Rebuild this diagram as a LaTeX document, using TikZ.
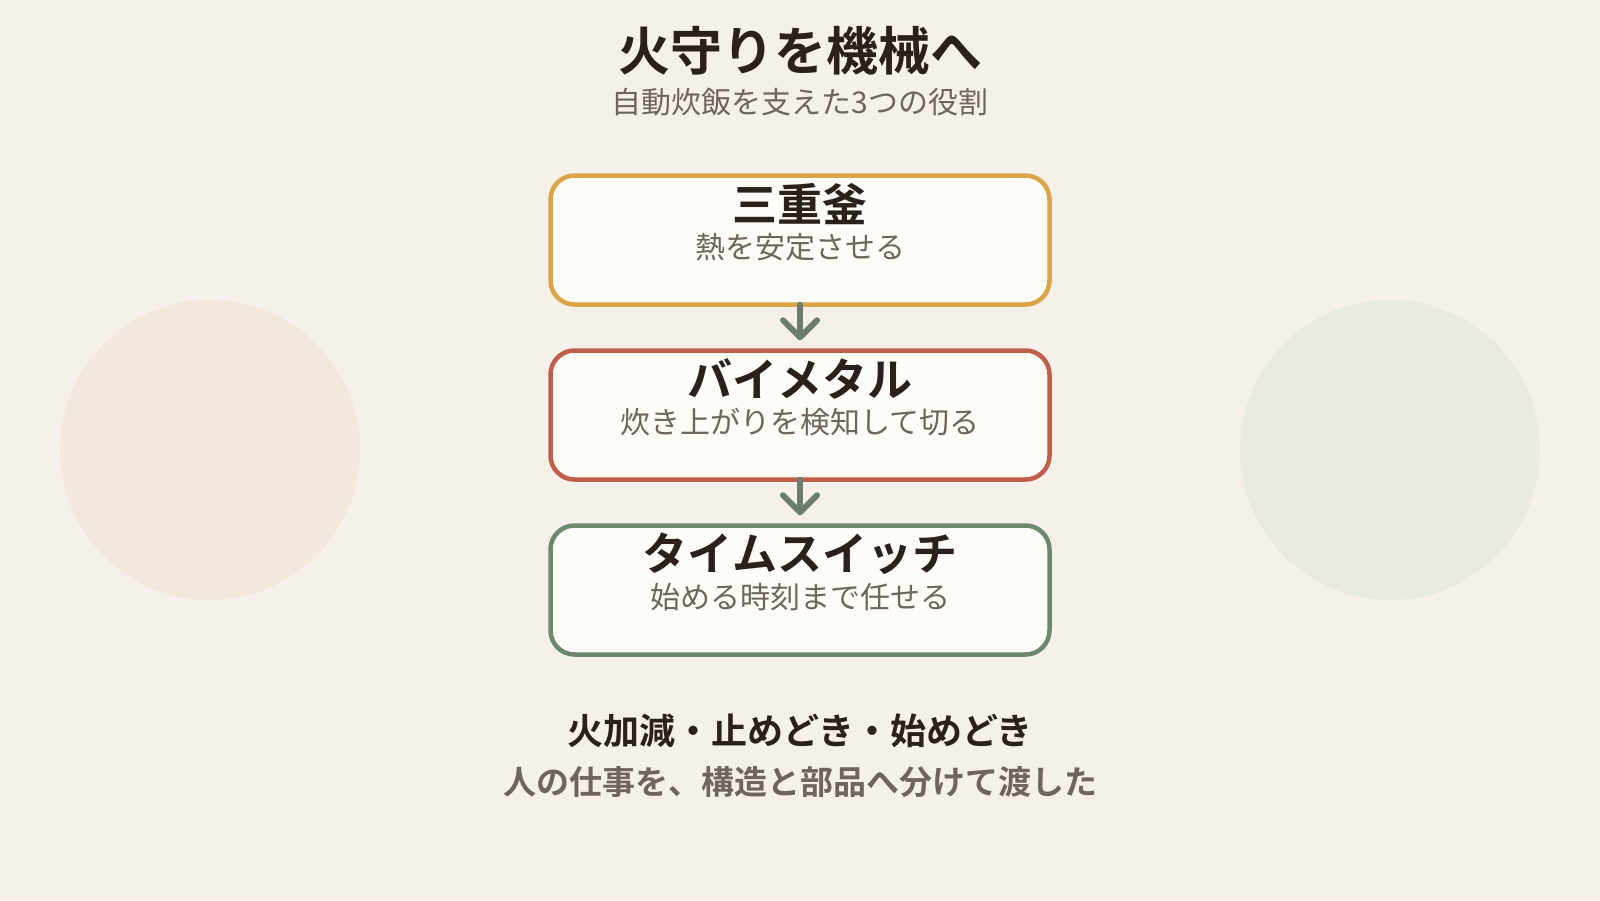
\documentclass[tikz,border=0pt]{standalone}
\usepackage{fontspec}
\setmainfont{Noto Sans CJK JP}
\newfontfamily\jpbold{Noto Sans CJK JP Bold}
\usetikzlibrary{arrows.meta}
\definecolor{bgc}{HTML}{F5F1EA}
\definecolor{boxfill}{HTML}{FEFCF7}
\definecolor{ora}{HTML}{DCA448}
\definecolor{redc}{HTML}{C0604B}
\definecolor{grn}{HTML}{6E876F}
\definecolor{dark}{HTML}{2A201C}
\definecolor{subg}{HTML}{6E655D}
\definecolor{circl}{HTML}{F2E8DC}
\definecolor{circr}{HTML}{E9EBE3}
\definecolor{arr}{HTML}{6B7D6C}
\tikzset{
  x=1pt,y=-1pt,
  stepbox/.style={draw, line width=4.5pt, fill=boxfill, rounded corners=24pt, minimum width=499pt, minimum height=129pt, inner sep=0pt},
  boxtitle/.style={font=\jpbold\fontsize{45}{48}\selectfont, text=dark, inner sep=0pt},
  boxsub/.style={font=\fontsize{30}{34}\selectfont, text=subg, inner sep=0pt},
  flow/.style={draw=arr, line width=6pt, line cap=round, -{Straight Barb[length=17pt,width=34pt,line cap=round,line join=round]}}
}
\begin{document}
\begin{tikzpicture}
\fill[bgc] (0,0) rectangle (1600,900);
\useasboundingbox (0,0) rectangle (1600,900);
\fill[circl] (210,450) circle (150);
\fill[circr] (1390,450) circle (150);
\node[font=\jpbold\fontsize{52}{56}\selectfont, text=dark, inner sep=0pt] (title) at (800,51) {火守りを機械へ};
\node[font=\fontsize{30}{34}\selectfont, text=subg, inner sep=0pt] (subtitle) at (800,102) {自動炊飯を支えた3つの役割};
\node[stepbox, draw=ora] (b1) at (800,240) {};
\node[stepbox, draw=redc] (b2) at (800,415) {};
\node[stepbox, draw=grn] (b3) at (800,590) {};
\node[boxtitle] (t1) at (800,204) {三重釜};
\node[boxsub] (s1) at (800,247) {熱を安定させる};
\node[boxtitle] (t2) at (800,379) {バイメタル};
\node[boxsub] (s2) at (800,422) {炊き上がりを検知して切る};
\node[boxtitle] (t3) at (800,554) {タイムスイッチ};
\node[boxsub] (s3) at (800,597) {始める時刻まで任せる};
\draw[flow] ([yshift=2pt]b1.south) -- ([yshift=8pt]b2.north);
\draw[flow] ([yshift=2pt]b2.south) -- ([yshift=8pt]b3.north);
\node[font=\jpbold\fontsize{36}{40}\selectfont, text=dark, inner sep=0pt] (f1) at (800,731) {火加減・止めどき・始めどき};
\node[font=\jpbold\fontsize{33}{36}\selectfont, text=subg, inner sep=0pt] (f2) at (800,782) {人の仕事を、構造と部品へ分けて渡した};
\end{tikzpicture}
\end{document}
